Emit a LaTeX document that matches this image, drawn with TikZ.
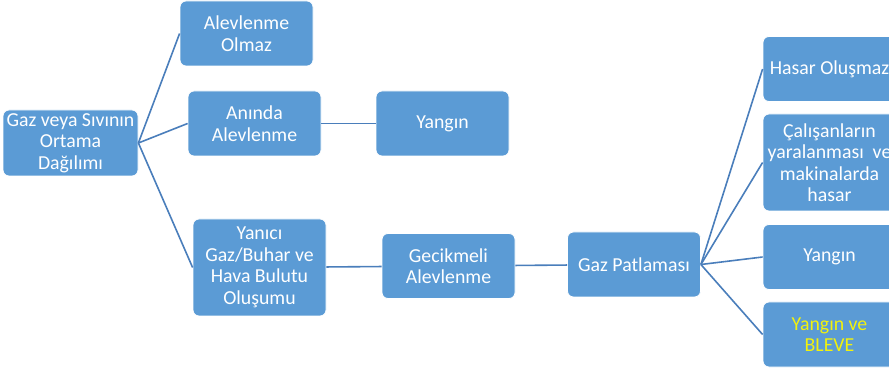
\documentclass[tikz,border=0pt]{standalone}
\usepackage{fontspec}
\setmainfont{Carlito}
\usepackage{xcolor}
\usepackage{tikz}
\usetikzlibrary{positioning}

\definecolor{boxblue}{HTML}{5B9BD5}
\definecolor{lineblue}{HTML}{4A7EBB}
\definecolor{warnyellow}{HTML}{F2F20C}

\begin{document}
\begin{tikzpicture}[x=1pt, y=-1pt,
    block/.style={rectangle, rounded corners=6pt, draw=white, line width=0.8pt, fill=boxblue,
      text=white, align=center, minimum width=133pt, minimum height=65pt, inner sep=2pt,
      font=\fontsize{19.8}{21.5}\selectfont},
    tall/.style={block, minimum height=97pt},
    conn/.style={draw=lineblue, line width=1.6pt}]

    \useasboundingbox (0,0) rectangle (889,371);
    \clip (0,0) rectangle (889,371);

    % first level
    \node[block, minimum width=135pt, minimum height=66pt] (root) at (70.5,143) {Gaz veya Sıvının\\Ortama\\Dağılımı};
    \node[block] (olmaz) at (246.5,33.5) {Alevlenme\\Olmaz};
    \node[block] (aninda) at (254.5,123.5) {Anında\\Alevlenme};
    \node[block] (yangin) at (442.5,123.5) {Yangın};
    \node[tall] (bulut) at (259.5,267.5) {Yanıcı\\Gaz/Buhar ve\\Hava Bulutu\\Oluşumu};
    \node[block] (gecik) at (448.5,266) {Gecikmeli\\Alevlenme};
    \node[block] (patla) at (634,264.5) {Gaz Patlaması};

    % outcomes of the explosion
    \node[block] (hasaryok) at (829.5,69) {Hasar Oluşmaz};
    \node[tall] (yarali) at (829.5,162.5) {Çalışanların\\yaralanması\ \ ve\\makinalarda\\hasar};
    \node[block] (yangintwo) at (829.5,257) {Yangın};
    \node[block, text=warnyellow] (bleve) at (829.5,334.5) {Yangın ve\\BLEVE};

    \draw[conn] (root.east) -- (olmaz.west);
    \draw[conn] (root.east) -- (aninda.west);
    \draw[conn] (root.east) -- (bulut.west);
    \draw[conn] (aninda) -- (yangin);
    \draw[conn] (bulut) -- (gecik);
    \draw[conn] (gecik) -- (patla);
    \draw[conn] (patla.east) -- (hasaryok.west);
    \draw[conn] (patla.east) -- (yarali.west);
    \draw[conn] (patla.east) -- (yangintwo.west);
    \draw[conn] (patla.east) -- (bleve.west);

\end{tikzpicture}
\end{document}
